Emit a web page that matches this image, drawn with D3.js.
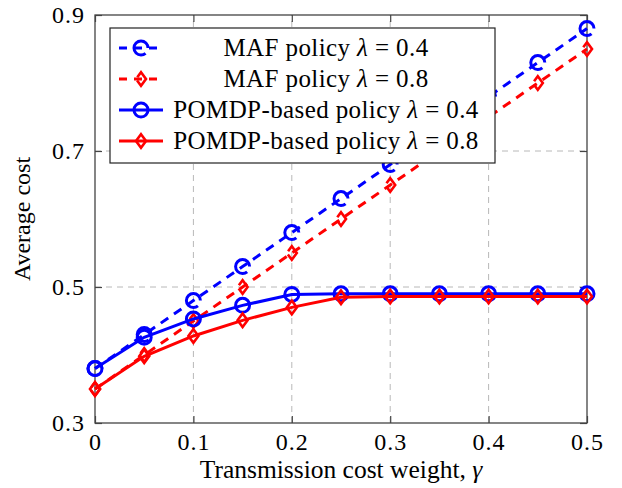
<!DOCTYPE html>
<html>
<head>
<meta charset="utf-8">
<script src="https://cdn.jsdelivr.net/npm/d3@7"></script>
<style>
  body { margin: 0; background: #fff; }
  text { font-family: "Liberation Serif", "Times New Roman", serif; fill: #000; }
</style>
</head>
<body>
<div id="chart"></div>
<script>
// transmission cost weight (x)
const gamma = [0, 0.05, 0.1, 0.15, 0.2, 0.25, 0.3, 0.35, 0.4, 0.45, 0.5];
// average cost
const mafL04 = [0.38, 0.43, 0.48, 0.53, 0.58, 0.63, 0.68, 0.73, 0.78, 0.83, 0.88];
const mafL08 = [0.35, 0.40, 0.45, 0.50, 0.55, 0.60, 0.65, 0.70, 0.75, 0.80, 0.85];
const pomdpL04 = [0.38, 0.426, 0.453, 0.473, 0.489, 0.49, 0.49, 0.49, 0.49, 0.49, 0.49];
const pomdpL08 = [0.35, 0.398, 0.428, 0.451, 0.47, 0.485, 0.486, 0.486, 0.486, 0.486, 0.486];

const xTicks = [0, 0.1, 0.2, 0.3, 0.4, 0.5];
const yTicks = [0.3, 0.5, 0.7, 0.9];

const seriesNames = ["MAF policy", "MAF policy", "POMDP-based policy", "POMDP-based policy"];
const seriesLambda = ["0.4", "0.8", "0.4", "0.8"];

const width = 622, height = 488;
const margin = { top: 15, right: 35, bottom: 65, left: 95 };

const svg = d3.select("#chart").append("svg")
  .attr("width", width)
  .attr("height", height);

const x = d3.scaleLinear().domain([0, 0.5]).range([margin.left, width - margin.right]);
const y = d3.scaleLinear().domain([0.3, 0.9]).range([height - margin.bottom, margin.top]);

const plotW = width - margin.left - margin.right;
const plotH = height - margin.top - margin.bottom;

// dashed grid
const grid = svg.append("g").attr("class", "grid");
grid.selectAll("line.gx")
  .data(xTicks.slice(1, -1))
  .enter().append("line")
  .attr("x1", (d) => x(d)).attr("x2", (d) => x(d))
  .attr("y1", y(0.3)).attr("y2", y(0.9));
grid.selectAll("line.gy")
  .data(yTicks.slice(1, -1))
  .enter().append("line")
  .attr("x1", x(0)).attr("x2", x(0.5))
  .attr("y1", (d) => y(d)).attr("y2", (d) => y(d));
grid.selectAll("line")
  .attr("stroke", "#b8b8b8")
  .attr("stroke-width", 1)
  .attr("stroke-dasharray", "6,5");

// axes, ticks pointing inwards on all four sides
const fmt = (d) => (d === 0 ? "0" : d3.format(".1f")(d));
const tick = 7;

svg.append("g")
  .attr("transform", `translate(0,${y(0.3)})`)
  .call(d3.axisBottom(x).tickValues(xTicks).tickFormat(fmt).tickSize(-tick).tickPadding(10));
svg.append("g")
  .attr("transform", `translate(0,${y(0.9)})`)
  .call(d3.axisTop(x).tickValues(xTicks).tickFormat("").tickSize(-tick));
svg.append("g")
  .attr("transform", `translate(${x(0)},0)`)
  .call(d3.axisLeft(y).tickValues(yTicks).tickFormat(d3.format(".1f")).tickSize(-tick).tickPadding(10));
svg.append("g")
  .attr("transform", `translate(${x(0.5)},0)`)
  .call(d3.axisRight(y).tickValues(yTicks).tickFormat("").tickSize(-tick));

svg.selectAll(".domain").remove();
svg.selectAll(".tick line").attr("stroke", "#444").attr("stroke-width", 1.2);
svg.selectAll(".tick text")
  .style("font-family", '"Liberation Serif", serif')
  .style("font-size", "24px")
  .style("letter-spacing", "1px")
  .attr("fill", "#000");

svg.append("rect")
  .attr("x", x(0)).attr("y", y(0.9))
  .attr("width", plotW).attr("height", plotH)
  .attr("fill", "none")
  .attr("stroke", "#444")
  .attr("stroke-width", 1.3);

// series
const series = [
  { values: mafL04, color: "#0000ff", dashed: true, mark: "circle" },
  { values: mafL08, color: "#ff0000", dashed: true, mark: "diamond" },
  { values: pomdpL04, color: "#0000ff", dashed: false, mark: "circle" },
  { values: pomdpL08, color: "#ff0000", dashed: false, mark: "diamond" },
];

const line = d3.line()
  .x((d) => x(d[0]))
  .y((d) => y(d[1]));

const diamondPath = "M0,-6.8L5,0L0,6.8L-5,0Z";

function drawMark(g, s, cx, cy) {
  if (s.mark === "circle") {
    const c = g.append("circle")
      .attr("cx", cx).attr("cy", cy).attr("r", 7)
      .attr("fill", "none")
      .attr("stroke", s.color)
      .attr("stroke-width", 3);
    if (s.dashed) c.attr("stroke-dasharray", "38,6").attr("stroke-dashoffset", 38);
  } else {
    const p = g.append("path")
      .attr("d", diamondPath)
      .attr("transform", `translate(${cx},${cy})`)
      .attr("fill", "none")
      .attr("stroke", s.color)
      .attr("stroke-width", 2.6)
      .attr("stroke-linejoin", "miter");
    if (s.dashed) p.attr("stroke-dasharray", "23.5,4,6.3,0");
  }
}

series.forEach((s) => {
  const pts = gamma.map((g, i) => [g, s.values[i]]);
  const g = svg.append("g");
  g.append("path")
    .datum(pts)
    .attr("d", line)
    .attr("fill", "none")
    .attr("stroke", s.color)
    .attr("stroke-width", 3)
    .attr("stroke-dasharray", s.dashed ? "9,7" : null);
  pts.forEach((p) => drawMark(g, s, x(p[0]), y(p[1])));
});

// legend
const legend = svg.append("g");
legend.append("rect")
  .attr("x", 110).attr("y", 28)
  .attr("width", 385).attr("height", 135)
  .attr("fill", "#fff")
  .attr("stroke", "#222")
  .attr("stroke-width", 1.2);

series.forEach((s, i) => {
  const cy = 48 + i * 31;
  legend.append("line")
    .attr("x1", 119).attr("x2", 163)
    .attr("y1", cy).attr("y2", cy)
    .attr("stroke", s.color)
    .attr("stroke-width", 3)
    .attr("stroke-dasharray", s.dashed ? "8,7" : null);
  drawMark(legend, s, 141, cy);

  const t = legend.append("text")
    .attr("x", 326).attr("y", cy + 8)
    .attr("text-anchor", "middle")
    .style("font-size", "25px")
    .style("letter-spacing", "0.4px");
  t.append("tspan").text(seriesNames[i] + " ");
  t.append("tspan").style("font-style", "italic").text("λ");
  t.append("tspan").text(" = " + seriesLambda[i]);
});

// axis titles
const xt = svg.append("text")
  .attr("x", (x(0) + x(0.5)) / 2)
  .attr("y", 478)
  .attr("text-anchor", "middle")
  .style("font-size", "25.5px");
xt.append("tspan").text("Transmission cost weight, ");
xt.append("tspan").style("font-style", "italic").text("γ");

svg.append("text")
  .attr("transform", `translate(30,${(y(0.3) + y(0.9)) / 2}) rotate(-90)`)
  .attr("text-anchor", "middle")
  .style("font-size", "24px")
  .text("Average cost");
</script>
</body>
</html>
